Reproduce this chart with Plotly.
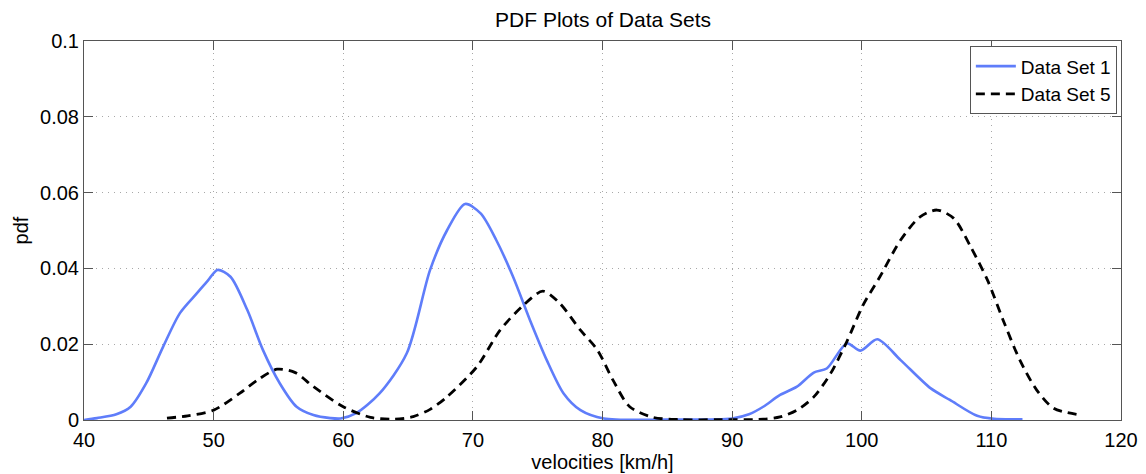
import plotly.graph_objects as go

# Data Set 1 (velocity km/h, pdf)
ds1_x = [40, 41, 42.5, 43.6, 44.8, 46.1, 47.4, 48.7, 49.6, 50.3, 51.3, 52.6, 53.8, 55.1,
         56.4, 57.7, 59.0, 59.8, 61.0, 62.8, 64.9, 66.7, 68.0, 69.4, 70.6, 71.8, 73.1,
         74.4, 75.7, 77.0, 78.3, 80.1, 85, 90, 91.3, 92.4, 93.7, 95.0, 96.3, 97.3, 98.85,
         99.9, 101.2, 103.0, 105.3, 106.8, 108.9, 110.2, 112.4]
ds1_y = [0, 0.0005, 0.0015, 0.0035, 0.0097, 0.0193, 0.0282, 0.0334, 0.037, 0.0396, 0.0378,
         0.029, 0.0185, 0.0097, 0.0035, 0.0013, 0.0005, 0.0004, 0.0018, 0.007, 0.0176,
         0.0396, 0.050, 0.057, 0.0545, 0.0475, 0.0378, 0.0264, 0.0158, 0.007, 0.0026,
         0.0004, 0.0001, 0.0004, 0.0015, 0.0035, 0.0066, 0.0088, 0.0125, 0.0136, 0.0202,
         0.0183, 0.0213, 0.0158, 0.0084, 0.0053, 0.0011, 0.0003, 0.0002]

# Data Set 5
ds5_x = [46.4, 48, 50.0, 52.0, 53.5, 54.9, 56.3, 57.7, 60.0, 62.1, 63.9, 65.4, 66.7, 68.0,
         70.3, 72.1, 73.9, 75.4, 76.7, 78.3, 79.6, 80.8, 82.1, 83.9, 86, 89, 92.4, 93.7,
         95.0, 96.3, 97.6, 98.85, 100.1, 101.4, 103.0, 104.5, 105.8, 107.1, 108.4, 109.7,
         110.9, 112.2, 113.5, 114.8, 116.9]
ds5_y = [0.0005, 0.0011, 0.0026, 0.007, 0.0108, 0.0134, 0.0125, 0.0088, 0.0035, 0.0007,
         0.0002, 0.0009, 0.0028, 0.0061, 0.014, 0.0237, 0.0303, 0.034, 0.0308, 0.0237,
         0.0185, 0.0106, 0.0035, 0.0007, 0.0001, 0.0001, 0.0002, 0.0008, 0.0026, 0.0061,
         0.0123, 0.0207, 0.0303, 0.0378, 0.0475, 0.0536, 0.0554, 0.0532, 0.0457, 0.0369,
         0.0264, 0.0158, 0.0079, 0.0031, 0.0013]

series_names = ["Data Set 1", "Data Set 5"]
x_ticks = [40, 50, 60, 70, 80, 90, 100, 110, 120]
y_ticks = [0, 0.02, 0.04, 0.06, 0.08, 0.1]
y_ticktext = ["0", "0.02", "0.04", "0.06", "0.08", "0.1"]

FONT = "Liberation Sans, Arial, sans-serif"

fig = go.Figure()
fig.add_trace(go.Scatter(x=ds1_x, y=ds1_y, mode="lines", name=series_names[0],
                         line=dict(color="rgb(95,125,250)", width=2.6, shape="spline", smoothing=0.8)))
fig.add_trace(go.Scatter(x=ds5_x, y=ds5_y, mode="lines", name=series_names[1],
                         line=dict(color="black", width=2.8, dash="9px,6px", shape="spline", smoothing=0.8)))

axis_common = dict(
    showline=True, linecolor="#555555", linewidth=1, mirror="ticks",
    ticks="inside", ticklen=9, tickcolor="#555555", tickwidth=1,
    showgrid=True, gridcolor="#a8a8a8", griddash="1px,5px", gridwidth=1,
    zeroline=False, tickfont=dict(family=FONT, size=20, color="black"),
    automargin=False,
)

# the page body has an 8px margin, so the figure is sized/offset accordingly
fig.update_layout(
    width=1138, height=466,
    margin=dict(l=76, r=25, t=33, b=54),
    paper_bgcolor="white", plot_bgcolor="white",
    title=dict(text="PDF Plots of Data Sets", x=0.5229, xanchor="center", y=0.976, yanchor="middle",
               font=dict(family=FONT, size=21, color="black")),
    xaxis=dict(range=[40, 120], tickvals=x_ticks, ticktext=[str(v) for v in x_ticks],
               ticklabelstandoff=2,
               title=dict(text="velocities [km/h]", font=dict(family=FONT, size=20, color="black"), standoff=1),
               **axis_common),
    yaxis=dict(range=[0, 0.1], tickvals=y_ticks, ticktext=y_ticktext,
               title=dict(text="pdf", font=dict(family=FONT, size=20, color="black"), standoff=6),
               **axis_common),
    legend=dict(x=0.996, xanchor="right", y=0.986, yanchor="top",
                bgcolor="white", bordercolor="#555555", borderwidth=1,
                font=dict(family=FONT, size=19, color="black"),
                tracegroupgap=0, itemwidth=40),
    showlegend=True,
)

fig.write_html("out.html")
